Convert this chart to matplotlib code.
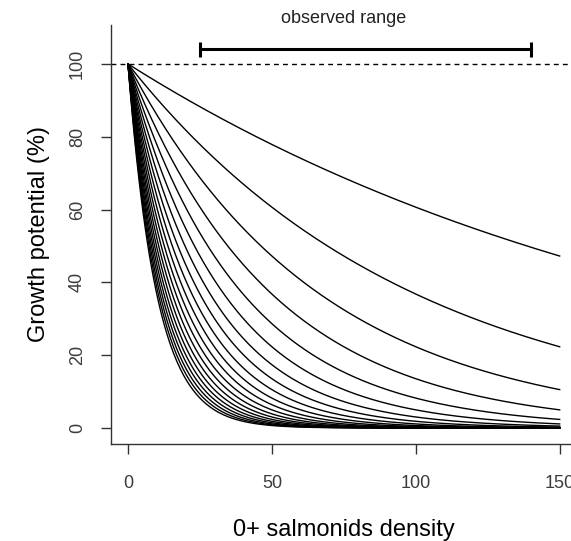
import numpy as np
import matplotlib.pyplot as plt

plt.rcParams['font.family'] = ['Liberation Sans', 'DejaVu Sans']

# decay rates of the growth potential curves (per unit density)
rates = [0.005, 0.010, 0.015, 0.020, 0.025, 0.030, 0.035, 0.040, 0.045, 0.050,
         0.055, 0.060, 0.065, 0.070, 0.075, 0.080, 0.085, 0.090, 0.095, 0.100]
density_max = 150
observed_range = [25, 140]
x_ticks = [0, 50, 100, 150]
y_ticks = [0, 20, 40, 60, 80, 100]

fig = plt.figure(figsize=(5.71, 5.41), dpi=100)
ax = fig.add_axes([0.1944, 0.1793, 0.816, 0.7745])

density = np.linspace(0, density_max, 400)
for k in rates:
    ax.plot(density, 100 * np.exp(-k * density), color='black', lw=1.0)

# reference line at 100 %
ax.axhline(100, color='black', lw=1.0, linestyle=(0, (3.5, 3)))

# observed range bar
mid = (observed_range[0] + observed_range[1]) / 2
half = (observed_range[1] - observed_range[0]) / 2
ax.errorbar(mid, 104.1, xerr=half, color='black', lw=2.2, capsize=5.4, capthick=2.2)
ax.text(75, 112.6, "observed range", ha='center', va='center', fontsize=13,
        color='#222222', clip_on=False)

ax.set_xlim(-5.9, 156)
ax.set_ylim(-4.4, 110.7)
ax.spines['top'].set_visible(False)
ax.spines['right'].set_visible(False)
for s in ['left', 'bottom']:
    ax.spines[s].set_color('#333333')
    ax.spines[s].set_linewidth(1.0)

ax.set_xticks(x_ticks)
ax.set_yticks(y_ticks)
ax.set_yticklabels([str(v) for v in y_ticks], rotation=90, va='center')
ax.tick_params(axis='both', length=7, width=1.0, color='#333333',
               labelcolor='#3c3c3c', labelsize=13)
ax.tick_params(axis='x', pad=15)
ax.tick_params(axis='y', pad=11)

ax.set_xlabel("0+ salmonids density", fontsize=17, labelpad=20)
ax.set_ylabel("Growth potential (%)", fontsize=17, labelpad=14)

fig.savefig("out.png", dpi=100)
